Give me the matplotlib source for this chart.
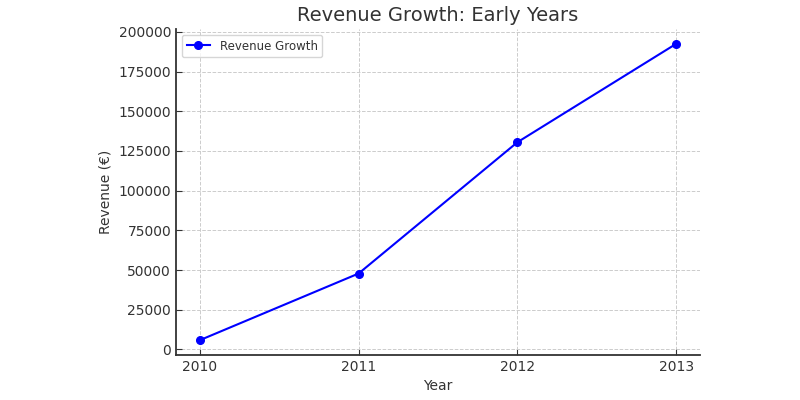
import matplotlib
matplotlib.use('Agg')
import matplotlib.pyplot as plt

# Datos
years = [2010, 2011, 2012, 2013]
revenue = [5800, 47800, 130500, 192500]
y_ticks = [0, 25000, 50000, 75000, 100000, 125000, 150000, 175000, 200000]

texto = '#333333'

fig = plt.figure(figsize=(8, 4), dpi=100)
ax = fig.add_axes([0.22, 0.1125, 0.655, 0.815])

ax.plot(years, revenue, marker='o', linestyle='-', color='blue',
        linewidth=1.5, markersize=5.5, label='Revenue Growth')

ax.set_xticks(years)
ax.set_yticks(y_ticks)
ax.set_title('Revenue Growth: Early Years', fontsize=14, color=texto)
ax.set_xlabel('Year', fontsize=10, color=texto)
ax.set_ylabel('Revenue (€)', fontsize=10, color=texto)

ax.grid(True, linestyle='--', color='#cccccc', linewidth=0.7)
ax.set_axisbelow(True)
for lado in ['top', 'right']:
    ax.spines[lado].set_visible(False)
for lado in ['left', 'bottom']:
    ax.spines[lado].set_color(texto)
    ax.spines[lado].set_linewidth(1.3)
ax.tick_params(direction='in', length=4, colors=texto, labelsize=10)

ax.legend(loc='upper left', fontsize=8.5, labelcolor=texto)

fig.savefig('out.png', dpi=100)
